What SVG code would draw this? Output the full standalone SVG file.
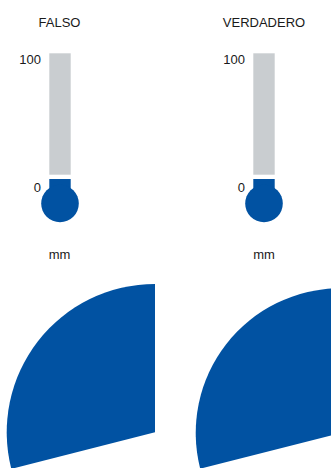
<svg xmlns="http://www.w3.org/2000/svg" width="331" height="468" viewBox="0 0 331 468">
<style>
text{font-family:"Liberation Sans",Arial,sans-serif;font-size:13px;fill:#1a1a1a}
.tube{fill:#c9cdd0}
.blue{fill:#0152a2}
.mid{text-anchor:middle}
.end{text-anchor:end}
</style>
<rect width="331" height="468" fill="#ffffff"/>
<g id="thermo-falso">
<text class="mid" x="59.5" y="27">FALSO</text>
<text class="end" x="41" y="63.5">100</text>
<text class="end" x="41" y="192">0</text>
<rect class="tube" x="49.3" y="53.3" width="21.4" height="121.4"/>
<rect class="blue" x="49.3" y="179" width="21.4" height="14"/>
<circle class="blue" cx="60" cy="203.5" r="18.8"/>
<text class="mid" x="59.5" y="259">mm</text>
</g>
<g id="thermo-verdadero">
<text class="mid" x="264" y="27">VERDADERO</text>
<text class="end" x="245" y="63.5">100</text>
<text class="end" x="245" y="192">0</text>
<rect class="tube" x="253.3" y="53.3" width="21.4" height="121.4"/>
<rect class="blue" x="253.3" y="179" width="21.4" height="14"/>
<circle class="blue" cx="264" cy="203.5" r="18.8"/>
<text class="mid" x="264" y="259">mm</text>
</g>
<g id="sector-falso">
<path class="blue" d="M155 432.3 L155 284 A148.3 148.3 0 0 0 11.3 468.9 Z"/>
</g>
<g id="sector-verdadero">
<path class="blue" d="M340.4 433 L340.4 288.3 A144.7 144.7 0 0 0 200.2 468.7 Z"/>
</g>
</svg>
